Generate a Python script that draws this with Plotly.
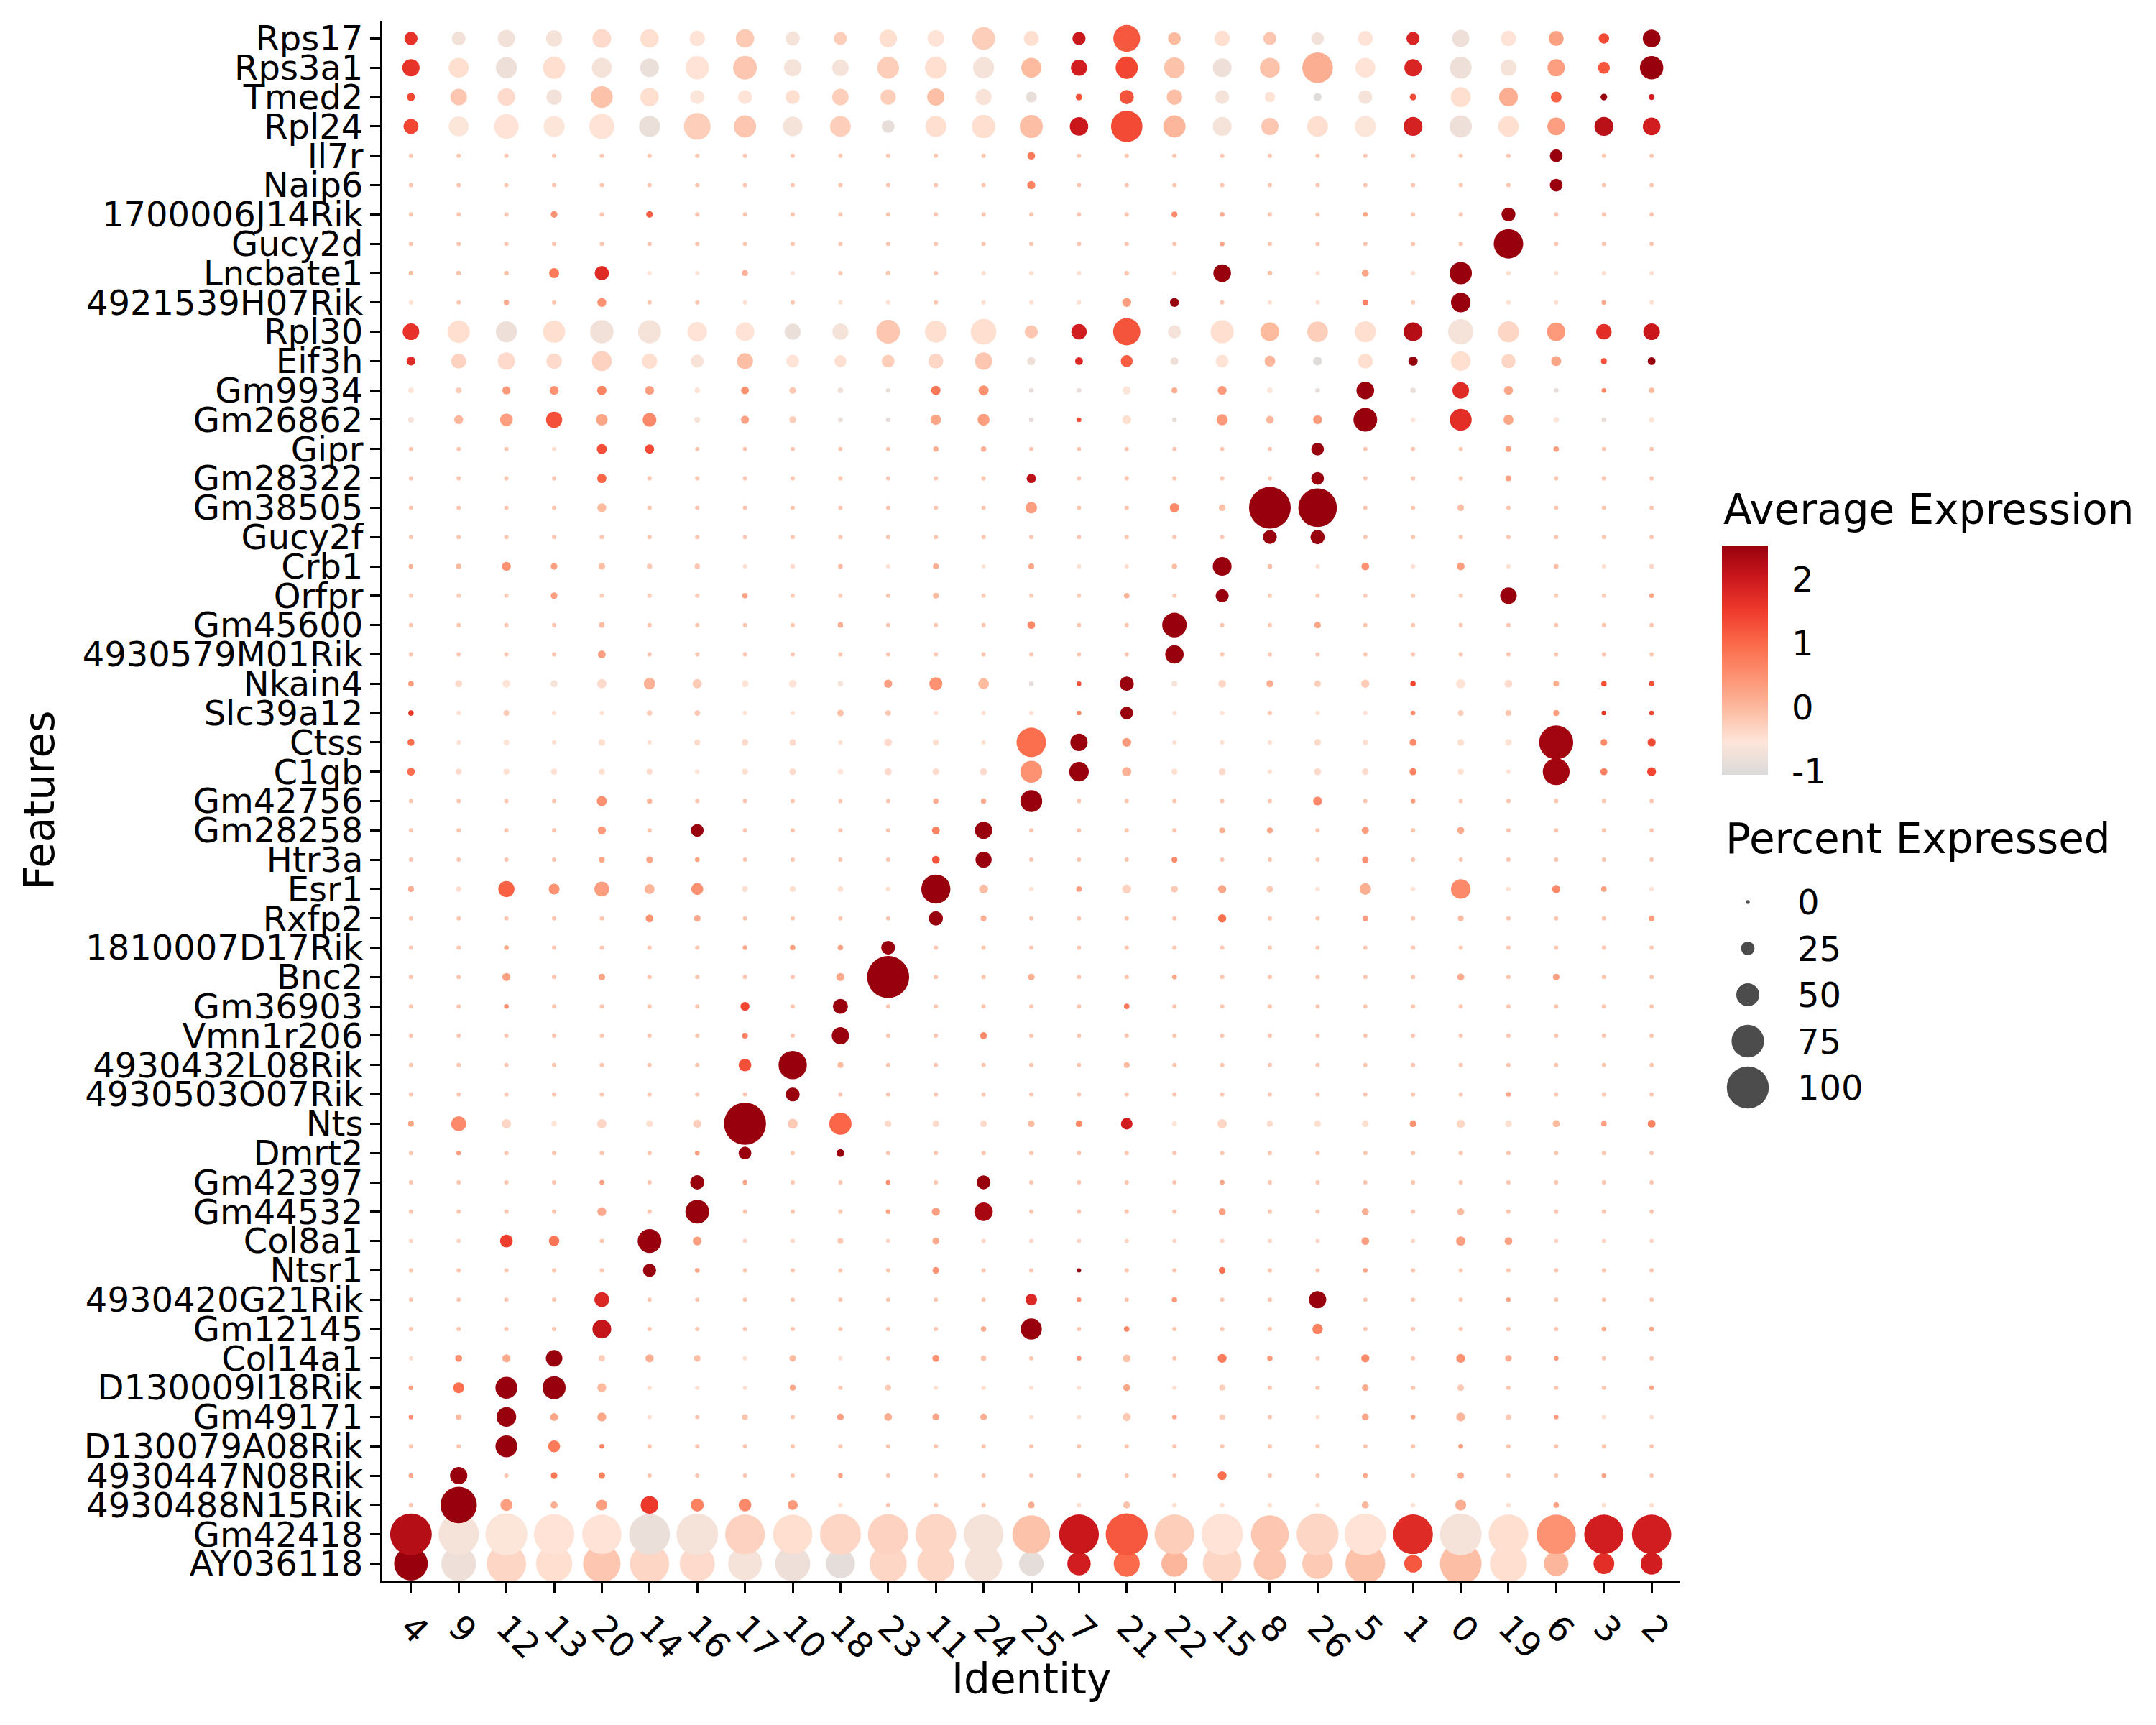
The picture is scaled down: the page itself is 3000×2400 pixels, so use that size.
import plotly.graph_objects as go

# ---------------- data ----------------
features = ["Rps17", "Rps3a1", "Tmed2", "Rpl24", "Il7r", "Naip6", "1700006J14Rik", "Gucy2d",
            "Lncbate1", "4921539H07Rik", "Rpl30", "Eif3h", "Gm9934", "Gm26862", "Gipr", "Gm28322",
            "Gm38505", "Gucy2f", "Crb1", "Orfpr", "Gm45600", "4930579M01Rik", "Nkain4", "Slc39a12",
            "Ctss", "C1qb", "Gm42756", "Gm28258", "Htr3a", "Esr1", "Rxfp2", "1810007D17Rik", "Bnc2",
            "Gm36903", "Vmn1r206", "4930432L08Rik", "4930503O07Rik", "Nts", "Dmrt2", "Gm42397",
            "Gm44532", "Col8a1", "Ntsr1", "4930420G21Rik", "Gm12145", "Col14a1", "D130009I18Rik",
            "Gm49171", "D130079A08Rik", "4930447N08Rik", "4930488N15Rik", "Gm42418", "AY036118"]

clusters = ["4", "9", "12", "13", "20", "14", "16", "17", "10", "18", "23", "11", "24", "25",
            "7", "21", "22", "15", "8", "26", "5", "1", "0", "19", "6", "3", "2"]

# percent expressed, one row per feature (top to bottom), columns follow `clusters`
pct_expressed = [
    [24, 26, 35, 32, 39, 38, 30, 38, 27, 24, 36, 33, 50, 29, 24, 60, 23, 30, 24, 23, 29, 24, 35, 30, 29, 17, 36],  # Rps17
    [35, 42, 45, 48, 42, 39, 51, 52, 35, 33, 47, 47, 45, 42, 32, 48, 44, 39, 42, 70, 42, 35, 47, 32, 35, 21, 51],  # Rps3a1
    [11, 33, 36, 30, 47, 38, 27, 26, 27, 33, 30, 35, 32, 18, 7, 27, 30, 26, 17, 11, 26, 7, 42, 39, 18, 7, 5],  # Tmed2
    [29, 42, 54, 45, 56, 45, 60, 48, 41, 44, 23, 45, 51, 50, 38, 72, 48, 39, 35, 44, 45, 39, 48, 44, 36, 39, 36],  # Rpl24
    [1, 1, 1, 1, 1, 1, 1, 1, 1, 1, 1, 1, 1, 10, 1, 1, 1, 1, 1, 1, 1, 1, 1, 1, 23, 1, 1],  # Il7r
    [1, 1, 1, 1, 1, 1, 1, 1, 1, 1, 1, 1, 1, 11, 1, 1, 1, 1, 1, 1, 1, 1, 1, 1, 23, 1, 1],  # Naip6
    [1, 1, 1, 7, 1, 7, 1, 1, 1, 1, 1, 1, 1, 1, 1, 1, 5, 2, 1, 1, 2, 1, 1, 26, 1, 1, 1],  # 1700006J14Rik
    [1, 1, 1, 1, 1, 1, 1, 1, 1, 1, 1, 1, 1, 1, 1, 1, 1, 2, 1, 1, 1, 1, 1, 67, 1, 1, 1],  # Gucy2d
    [2, 2, 2, 16, 27, 1, 1, 5, 1, 1, 2, 1, 1, 1, 1, 2, 1, 36, 2, 1, 8, 1, 48, 1, 1, 1, 1],  # Lncbate1
    [1, 1, 4, 1, 13, 1, 1, 1, 1, 1, 1, 1, 1, 1, 1, 13, 13, 1, 1, 1, 5, 1, 41, 1, 1, 2, 1],  # 4921539H07Rik
    [33, 48, 45, 48, 51, 50, 41, 39, 32, 32, 52, 47, 57, 24, 30, 61, 24, 50, 39, 44, 45, 39, 56, 45, 38, 30, 33],  # Rpl30
    [13, 29, 35, 30, 42, 30, 24, 32, 23, 21, 23, 29, 35, 11, 10, 21, 10, 23, 18, 13, 29, 14, 41, 27, 16, 5, 10],  # Eif3h
    [4, 5, 11, 13, 14, 13, 4, 10, 7, 4, 2, 14, 16, 2, 2, 11, 5, 13, 4, 2, 36, 4, 33, 13, 2, 2, 4],  # Gm9934
    [5, 13, 23, 32, 20, 26, 5, 11, 8, 2, 2, 17, 21, 2, 2, 13, 2, 19, 10, 13, 52, 2, 47, 16, 4, 2, 4],  # Gm26862
    [1, 1, 1, 1, 16, 14, 1, 1, 1, 1, 1, 4, 4, 1, 1, 1, 1, 1, 1, 23, 1, 1, 1, 5, 4, 1, 1],  # Gipr
    [1, 1, 1, 1, 14, 1, 1, 1, 1, 1, 1, 1, 1, 14, 1, 1, 1, 1, 1, 23, 1, 1, 1, 5, 1, 1, 1],  # Gm28322
    [1, 1, 1, 1, 13, 1, 1, 1, 1, 1, 1, 1, 1, 20, 1, 1, 14, 7, 99, 91, 1, 1, 7, 1, 1, 1, 1],  # Gm38505
    [1, 1, 1, 1, 1, 1, 1, 1, 1, 1, 1, 1, 1, 1, 1, 1, 1, 1, 26, 27, 1, 1, 1, 1, 1, 1, 1],  # Gucy2f
    [2, 4, 13, 7, 7, 4, 4, 1, 2, 2, 1, 5, 0, 5, 1, 1, 4, 39, 2, 1, 10, 1, 10, 1, 2, 1, 2],  # Crb1
    [1, 1, 1, 7, 1, 1, 1, 4, 1, 1, 1, 5, 1, 1, 1, 4, 1, 24, 1, 1, 1, 1, 1, 33, 1, 1, 2],  # Orfpr
    [1, 1, 1, 1, 4, 1, 1, 1, 1, 4, 1, 1, 1, 10, 1, 1, 54, 1, 1, 7, 1, 1, 1, 1, 1, 1, 1],  # Gm45600
    [1, 1, 1, 1, 10, 1, 1, 1, 1, 1, 1, 1, 1, 1, 1, 1, 38, 1, 1, 1, 1, 1, 1, 1, 1, 1, 1],  # 4930579M01Rik
    [4, 8, 10, 8, 14, 20, 14, 8, 10, 4, 11, 24, 18, 2, 2, 27, 5, 10, 8, 7, 11, 4, 14, 10, 5, 4, 4],  # Nkain4
    [4, 1, 5, 1, 1, 4, 4, 1, 1, 7, 4, 1, 1, 1, 2, 23, 1, 1, 1, 1, 1, 2, 5, 5, 5, 2, 2],  # Slc39a12
    [8, 1, 5, 1, 7, 1, 5, 7, 7, 1, 10, 5, 1, 67, 35, 13, 1, 1, 1, 7, 4, 8, 7, 7, 79, 7, 11],  # Ctss
    [10, 5, 5, 5, 5, 5, 2, 5, 7, 4, 8, 7, 8, 47, 41, 14, 5, 8, 1, 8, 7, 8, 5, 1, 60, 8, 13],  # C1qb
    [1, 1, 1, 1, 16, 4, 1, 1, 1, 1, 1, 4, 4, 47, 1, 1, 1, 1, 1, 13, 1, 2, 1, 1, 1, 1, 1],  # Gm42756
    [1, 1, 1, 1, 11, 1, 23, 1, 1, 1, 1, 10, 35, 1, 1, 1, 1, 5, 5, 1, 8, 1, 8, 1, 1, 1, 1],  # Gm28258
    [1, 1, 1, 1, 5, 7, 2, 1, 1, 1, 1, 10, 32, 1, 1, 1, 5, 1, 1, 1, 7, 1, 1, 1, 1, 1, 1],  # Htr3a
    [5, 4, 32, 18, 29, 16, 21, 5, 5, 4, 2, 66, 13, 2, 4, 13, 8, 11, 7, 2, 20, 2, 41, 2, 11, 4, 2],  # Esr1
    [1, 1, 1, 1, 1, 10, 7, 1, 1, 1, 1, 27, 5, 1, 1, 1, 1, 11, 1, 1, 5, 1, 5, 1, 1, 1, 5],  # Rxfp2
    [1, 1, 2, 1, 1, 1, 1, 2, 4, 4, 26, 1, 1, 1, 1, 1, 1, 1, 1, 1, 1, 1, 1, 1, 1, 1, 1],  # 1810007D17Rik
    [1, 1, 11, 1, 7, 1, 1, 1, 1, 11, 100, 1, 1, 7, 1, 1, 2, 1, 1, 1, 1, 1, 8, 1, 7, 1, 1],  # Bnc2
    [1, 1, 2, 1, 1, 1, 1, 13, 1, 29, 1, 1, 1, 1, 1, 4, 1, 1, 1, 1, 1, 1, 1, 1, 1, 1, 1],  # Gm36903
    [1, 1, 1, 1, 1, 1, 1, 5, 1, 35, 1, 1, 8, 1, 1, 1, 1, 1, 1, 1, 1, 1, 1, 1, 1, 1, 1],  # Vmn1r206
    [1, 1, 1, 1, 1, 1, 1, 23, 64, 5, 1, 1, 1, 1, 1, 5, 1, 1, 1, 1, 1, 1, 1, 1, 1, 1, 1],  # 4930432L08Rik
    [1, 1, 1, 1, 1, 1, 1, 1, 26, 1, 1, 1, 1, 1, 1, 1, 1, 1, 1, 1, 1, 1, 1, 2, 1, 1, 1],  # 4930503O07Rik
    [5, 29, 14, 4, 14, 7, 11, 100, 16, 48, 7, 7, 7, 7, 7, 20, 2, 14, 5, 7, 7, 7, 11, 7, 8, 4, 10],  # Nts
    [1, 2, 1, 1, 1, 1, 2, 23, 1, 10, 1, 1, 1, 1, 1, 1, 1, 1, 1, 1, 1, 1, 1, 1, 1, 1, 1],  # Dmrt2
    [1, 1, 1, 1, 2, 1, 27, 2, 1, 1, 2, 1, 26, 1, 1, 1, 1, 2, 1, 1, 1, 1, 1, 1, 1, 1, 1],  # Gm42397
    [1, 1, 1, 1, 13, 1, 52, 1, 1, 1, 2, 11, 38, 1, 1, 1, 1, 8, 1, 1, 8, 1, 8, 1, 1, 1, 1],  # Gm44532
    [1, 1, 23, 17, 1, 52, 13, 1, 1, 5, 1, 8, 1, 1, 1, 1, 1, 1, 1, 1, 10, 1, 14, 10, 1, 1, 1],  # Col8a1
    [1, 1, 1, 1, 1, 24, 2, 1, 1, 1, 1, 7, 1, 1, 1, 1, 1, 7, 1, 1, 2, 1, 1, 1, 1, 1, 1],  # Ntsr1
    [1, 1, 1, 1, 29, 1, 1, 1, 1, 1, 1, 1, 1, 20, 2, 1, 4, 1, 1, 35, 1, 1, 1, 2, 1, 1, 1],  # 4930420G21Rik
    [1, 1, 1, 1, 39, 1, 1, 1, 1, 1, 1, 1, 4, 45, 1, 4, 1, 1, 1, 17, 1, 1, 1, 1, 1, 2, 2],  # Gm12145
    [1, 8, 11, 33, 7, 11, 7, 1, 7, 1, 1, 8, 4, 1, 2, 10, 1, 13, 4, 1, 11, 1, 13, 7, 2, 1, 1],  # Col14a1
    [2, 18, 47, 50, 13, 1, 1, 1, 5, 1, 5, 1, 1, 1, 1, 8, 1, 5, 1, 1, 7, 1, 7, 1, 1, 1, 2],  # D130009I18Rik
    [2, 5, 41, 10, 13, 1, 1, 5, 1, 7, 10, 8, 7, 1, 1, 11, 2, 5, 1, 1, 8, 2, 13, 5, 2, 1, 1],  # Gm49171
    [1, 1, 47, 21, 2, 1, 1, 1, 1, 1, 1, 1, 1, 1, 1, 1, 1, 1, 1, 1, 1, 1, 2, 1, 1, 1, 1],  # D130079A08Rik
    [2, 35, 1, 7, 7, 1, 1, 1, 1, 2, 1, 1, 1, 1, 1, 1, 1, 13, 1, 1, 2, 1, 7, 1, 1, 2, 1],  # 4930447N08Rik
    [1, 85, 21, 8, 18, 36, 24, 23, 16, 1, 1, 1, 1, 7, 1, 8, 1, 1, 1, 1, 8, 1, 18, 1, 4, 1, 1],  # 4930488N15Rik
    [99, 96, 100, 96, 93, 97, 99, 94, 93, 97, 96, 97, 94, 89, 94, 100, 94, 99, 89, 100, 99, 94, 99, 94, 93, 93, 93],  # Gm42418
    [78, 81, 93, 85, 88, 93, 82, 78, 82, 66, 87, 87, 87, 54, 51, 58, 58, 91, 75, 70, 94, 36, 99, 87, 54, 44, 47],  # AY036118
]

# scaled average expression, same layout
avg_expression = [
    [1.6, -0.75, -0.75, -0.7, -0.45, -0.5, -0.55, -0.25, -0.7, -0.3, -0.5, -0.55, -0.3, -0.5, 2.0, 1.15, -0.05, -0.5, -0.2, -0.75, -0.55, 1.8, -0.8, -0.55, 0.25, 1.3, 2.5],  # Rps17
    [1.6, -0.5, -0.8, -0.5, -0.7, -0.85, -0.55, -0.2, -0.7, -0.7, -0.3, -0.5, -0.7, -0.05, 1.9, 1.35, -0.15, -0.8, -0.15, 0.1, -0.55, 1.8, -0.8, -0.7, 0.3, 1.15, 2.5],  # Rps3a1
    [1.35, -0.2, -0.45, -0.75, -0.15, -0.5, -0.6, -0.55, -0.5, -0.3, -0.3, -0.1, -0.65, -0.9, 1.2, 1.2, -0.1, -0.7, -0.55, -1.0, -0.7, 1.3, -0.5, 0.1, 1.05, 2.5, 1.9],  # Tmed2
    [1.35, -0.6, -0.55, -0.6, -0.55, -0.85, -0.3, -0.2, -0.7, -0.3, -0.9, -0.5, -0.5, -0.1, 2.0, 1.3, 0.0, -0.7, -0.2, -0.5, -0.6, 1.85, -0.8, -0.5, 0.3, 2.15, 1.9],  # Rpl24
    [-0.2, -0.2, -0.2, -0.2, -0.2, -0.2, -0.2, -0.2, -0.2, -0.2, -0.2, -0.2, -0.2, 0.75, -0.2, -0.2, -0.2, -0.2, -0.2, -0.2, -0.2, -0.2, -0.2, -0.2, 2.5, -0.2, -0.2],  # Il7r
    [-0.2, -0.2, -0.2, -0.2, -0.2, -0.2, -0.2, -0.2, -0.2, -0.2, -0.2, -0.2, -0.2, 0.65, -0.2, -0.2, -0.2, -0.2, -0.2, -0.2, -0.2, -0.2, -0.2, -0.2, 2.5, -0.2, -0.2],  # Naip6
    [-0.2, -0.2, -0.2, 0.45, -0.2, 1.1, -0.2, -0.2, -0.2, -0.2, -0.2, -0.2, -0.2, -0.2, -0.2, -0.2, 0.55, 0.1, -0.2, -0.2, 0.15, -0.2, -0.2, 2.5, -0.2, -0.2, -0.2],  # 1700006J14Rik
    [-0.2, -0.2, -0.2, -0.2, -0.2, -0.2, -0.2, -0.2, -0.2, -0.2, -0.2, -0.2, -0.2, -0.2, -0.2, -0.2, -0.2, 0.2, -0.2, -0.2, -0.2, -0.2, -0.2, 2.5, -0.2, -0.2, -0.2],  # Gucy2d
    [-0.1, -0.2, -0.15, 0.75, 1.7, -0.55, -0.55, 0.05, -0.55, -0.2, -0.25, -0.2, -0.5, -0.5, -0.5, -0.2, -0.5, 2.5, -0.15, -0.5, 0.2, -0.5, 2.5, -0.5, -0.5, -0.5, -0.5],  # Lncbate1
    [-0.5, -0.2, 0.15, -0.2, 0.45, -0.2, -0.2, -0.5, -0.2, -0.5, -0.5, -0.2, -0.5, -0.5, -0.5, 0.3, 2.5, -0.2, -0.5, -0.5, 0.65, -0.3, 2.5, -0.5, -0.5, 0.15, -0.5],  # 4921539H07Rik
    [1.6, -0.5, -0.8, -0.5, -0.75, -0.7, -0.55, -0.55, -0.85, -0.7, -0.2, -0.5, -0.5, -0.2, 1.9, 1.2, -0.7, -0.5, -0.05, -0.3, -0.5, 2.2, -0.7, -0.4, 0.35, 1.65, 2.0],  # Rpl30
    [1.7, -0.35, -0.45, -0.45, -0.35, -0.5, -0.65, -0.1, -0.55, -0.5, -0.3, -0.4, -0.2, -0.8, 1.75, 1.1, -0.8, -0.55, 0.0, -1.0, -0.5, 2.5, -0.5, -0.4, 0.2, 1.2, 2.5],  # Eif3h
    [-0.55, -0.3, 0.35, 0.45, 0.65, 0.3, -0.55, 0.45, -0.2, -0.8, -0.85, 0.8, 0.45, -0.9, -0.9, -0.6, 0.1, 0.35, -0.6, -0.9, 2.5, -0.85, 1.7, 0.2, -0.9, 0.55, -0.05],  # Gm9934
    [-0.7, 0.0, 0.3, 1.25, 0.2, 0.55, -0.7, 0.25, -0.3, -0.85, -0.9, 0.2, 0.3, -0.9, 1.25, -0.5, -0.9, 0.35, 0.0, 0.35, 2.5, -0.6, 1.65, 0.2, -0.6, -0.9, -0.6],  # Gm26862
    [-0.2, -0.2, -0.2, -0.5, 1.25, 1.3, -0.2, -0.2, -0.2, -0.2, -0.2, 0.1, 0.1, -0.2, -0.2, -0.2, -0.2, -0.2, -0.2, 2.5, -0.2, -0.2, -0.2, 0.25, 0.3, -0.2, -0.2],  # Gipr
    [-0.2, -0.2, -0.2, -0.2, 1.0, -0.2, -0.2, -0.2, -0.2, -0.2, -0.2, -0.2, -0.2, 2.15, -0.2, -0.2, -0.2, -0.2, -0.2, 2.5, -0.2, -0.2, -0.2, 0.25, -0.2, -0.2, -0.2],  # Gm28322
    [-0.2, -0.2, -0.2, -0.2, -0.05, -0.2, -0.2, -0.2, -0.2, -0.2, -0.2, -0.2, -0.2, 0.3, -0.2, -0.2, 0.55, -0.15, 2.5, 2.5, -0.2, -0.2, -0.1, -0.2, -0.2, -0.2, -0.2],  # Gm38505
    [-0.2, -0.2, -0.2, -0.2, -0.2, -0.2, -0.2, -0.2, -0.2, -0.2, -0.2, -0.2, -0.2, -0.2, -0.2, -0.2, -0.2, -0.2, 2.5, 2.5, -0.2, -0.2, -0.2, -0.2, -0.2, -0.2, -0.2],  # Gucy2f
    [0.05, -0.05, 0.45, 0.3, -0.1, -0.25, -0.2, -0.5, -0.45, -0.05, -0.5, 0.1, -0.5, 0.2, -0.5, -0.5, -0.1, 2.5, -0.1, -0.5, 0.45, -0.5, 0.3, -0.5, -0.1, -0.5, -0.4],  # Crb1
    [-0.3, -0.3, -0.3, 0.3, -0.3, -0.3, -0.3, 0.25, -0.3, -0.3, -0.2, -0.05, -0.3, -0.3, -0.3, 0.05, -0.3, 2.5, -0.3, -0.3, -0.3, -0.3, -0.3, 2.5, -0.3, -0.3, 0.2],  # Orfpr
    [-0.2, -0.2, -0.2, -0.2, -0.05, -0.2, -0.2, -0.2, -0.2, 0.1, -0.2, -0.2, -0.2, 0.55, -0.2, -0.2, 2.5, -0.2, -0.2, 0.2, -0.2, -0.2, -0.2, -0.2, -0.2, -0.2, -0.2],  # Gm45600
    [-0.2, -0.2, -0.2, -0.2, 0.3, -0.2, -0.2, -0.2, -0.2, -0.2, -0.2, -0.2, -0.2, -0.2, -0.2, -0.2, 2.5, -0.2, -0.2, -0.2, -0.2, -0.2, -0.2, -0.2, -0.2, -0.2, -0.2],  # 4930579M01Rik
    [0.35, -0.45, -0.55, -0.7, -0.45, 0.05, -0.25, -0.55, -0.55, -0.7, 0.3, 0.45, -0.05, -0.9, 1.25, 2.5, -0.7, -0.4, 0.1, -0.3, -0.25, 1.35, -0.55, -0.45, 0.1, 1.25, 1.25],  # Nkain4
    [1.55, -0.5, -0.25, -0.5, -0.5, -0.3, -0.2, -0.5, -0.5, -0.15, -0.2, -0.5, -0.5, -0.5, 0.55, 2.5, -0.5, -0.5, -0.2, -0.5, -0.5, 0.45, -0.3, -0.2, 0.35, 1.55, 1.35],  # Slc39a12
    [0.9, -0.5, -0.55, -0.5, -0.5, -0.5, -0.45, -0.45, -0.45, -0.5, -0.45, -0.5, -0.5, 0.9, 2.5, 0.35, -0.5, -0.5, -0.5, -0.45, -0.5, 0.55, -0.5, -0.55, 2.4, 0.55, 1.3],  # Ctss
    [0.9, -0.45, -0.5, -0.5, -0.5, -0.45, -0.55, -0.5, -0.45, -0.55, -0.45, -0.45, -0.45, 0.45, 2.5, 0.05, -0.5, -0.45, -0.5, -0.45, -0.45, 0.65, -0.5, -0.55, 2.4, 0.65, 1.35],  # C1qb
    [-0.2, -0.2, -0.2, -0.2, 0.45, 0.0, -0.2, -0.2, -0.2, -0.2, -0.2, 0.15, 0.15, 2.5, -0.2, -0.2, -0.2, -0.2, -0.2, 0.55, -0.2, 0.35, -0.2, -0.2, -0.2, -0.2, -0.2],  # Gm42756
    [-0.2, -0.2, -0.2, -0.2, 0.35, -0.2, 2.5, -0.2, -0.2, -0.2, -0.2, 0.65, 2.5, -0.2, -0.2, -0.2, -0.2, 0.1, 0.2, -0.2, 0.35, -0.2, 0.15, -0.2, -0.2, -0.2, -0.2],  # Gm28258
    [-0.2, -0.2, -0.2, -0.2, 0.2, 0.2, 0.2, -0.2, -0.2, -0.2, -0.2, 1.2, 2.5, -0.2, -0.2, -0.2, 0.55, -0.2, -0.2, -0.2, 0.45, -0.2, -0.2, -0.2, -0.2, -0.2, -0.2],  # Htr3a
    [0.1, -0.5, 1.05, 0.45, 0.3, 0.0, 0.45, -0.5, -0.5, -0.5, -0.5, 2.5, -0.1, -0.55, 0.3, -0.35, -0.25, 0.2, -0.25, -0.55, 0.1, -0.55, 0.55, -0.55, 0.55, 0.3, -0.55],  # Esr1
    [-0.2, -0.2, -0.2, -0.2, -0.2, 0.45, 0.15, -0.2, -0.2, -0.2, -0.2, 2.5, 0.1, -0.2, -0.2, -0.2, -0.2, 0.9, -0.2, -0.2, 0.3, -0.2, -0.05, -0.2, -0.2, -0.2, 0.3],  # Rxfp2
    [-0.2, -0.2, 0.2, -0.2, -0.2, -0.2, -0.2, 0.2, 0.3, 0.25, 2.5, -0.2, -0.2, -0.2, -0.2, -0.2, -0.2, -0.2, -0.2, -0.2, -0.2, -0.2, -0.2, -0.2, -0.2, -0.2, -0.2],  # 1810007D17Rik
    [-0.2, -0.2, 0.25, -0.2, 0.2, -0.2, -0.2, -0.2, -0.2, 0.15, 2.5, -0.2, -0.2, 0.1, -0.2, -0.2, 0.2, -0.2, -0.2, -0.2, -0.2, -0.2, 0.15, -0.2, 0.25, -0.2, -0.2],  # Bnc2
    [-0.2, -0.2, 0.45, -0.2, -0.2, -0.2, -0.2, 1.35, -0.2, 2.5, -0.2, -0.2, -0.2, -0.2, -0.2, 0.8, -0.2, -0.2, -0.2, -0.2, -0.2, -0.2, -0.2, -0.2, -0.2, -0.2, -0.2],  # Gm36903
    [-0.2, -0.2, -0.2, -0.2, -0.2, -0.2, -0.2, 0.65, -0.2, 2.5, -0.2, -0.2, 0.55, -0.2, -0.2, -0.2, -0.2, -0.2, -0.2, -0.2, -0.2, -0.2, -0.2, -0.2, -0.2, -0.2, -0.2],  # Vmn1r206
    [-0.2, -0.2, -0.2, -0.2, -0.2, -0.2, -0.2, 1.25, 2.5, -0.05, -0.2, -0.2, -0.2, -0.2, -0.2, -0.05, -0.2, -0.2, -0.2, -0.2, -0.2, -0.2, -0.2, -0.2, -0.2, -0.2, -0.2],  # 4930432L08Rik
    [-0.2, -0.2, -0.2, -0.2, -0.2, -0.2, -0.2, -0.2, 2.5, -0.2, -0.2, -0.2, -0.2, -0.2, -0.2, -0.2, -0.2, -0.2, -0.2, -0.2, -0.2, -0.2, -0.2, 0.2, -0.2, -0.2, -0.2],  # 4930503O07Rik
    [0.2, 0.55, -0.4, -0.55, -0.4, -0.5, -0.3, 2.5, -0.25, 1.0, -0.45, -0.45, -0.45, -0.05, 0.55, 1.9, -0.55, -0.4, -0.45, -0.5, -0.5, 0.45, -0.4, -0.5, -0.05, 0.3, 0.65],  # Nts
    [-0.2, 0.3, -0.2, -0.2, -0.2, -0.2, 0.3, 2.5, -0.2, 2.5, -0.2, -0.2, -0.2, -0.2, -0.2, -0.2, -0.2, -0.2, -0.2, -0.2, -0.2, -0.2, -0.2, -0.2, -0.2, -0.2, -0.2],  # Dmrt2
    [-0.2, -0.2, -0.2, -0.2, 0.3, -0.2, 2.5, 0.2, -0.2, -0.2, 0.45, -0.2, 2.5, -0.2, -0.2, -0.2, -0.2, 0.2, -0.2, -0.2, -0.2, -0.2, -0.2, -0.2, -0.2, -0.2, -0.2],  # Gm42397
    [-0.2, -0.2, -0.2, -0.2, 0.15, -0.2, 2.5, -0.2, -0.2, -0.2, 0.2, 0.3, 2.35, -0.2, -0.2, -0.2, -0.2, 0.3, -0.2, -0.2, 0.1, -0.2, -0.05, -0.2, -0.2, -0.2, -0.2],  # Gm44532
    [-0.4, -0.4, 1.45, 0.8, -0.2, 2.5, 0.3, -0.4, -0.4, -0.2, -0.4, 0.15, -0.4, -0.4, -0.4, -0.4, -0.4, -0.4, -0.4, -0.4, 0.3, -0.4, 0.3, 0.25, -0.4, -0.4, -0.4],  # Col8a1
    [-0.2, -0.2, -0.2, -0.2, -0.2, 2.5, 0.2, -0.2, -0.2, -0.2, -0.2, 0.45, -0.2, -0.2, 2.5, -0.2, -0.2, 0.9, -0.2, -0.2, 0.2, -0.2, -0.2, -0.2, -0.2, -0.2, -0.2],  # Ntsr1
    [-0.2, -0.2, -0.2, -0.2, 1.75, -0.2, -0.2, -0.2, -0.2, -0.2, -0.2, -0.2, -0.2, 1.75, 0.45, -0.2, 0.35, -0.2, -0.2, 2.5, -0.2, -0.2, -0.2, 0.2, -0.2, -0.2, -0.2],  # 4930420G21Rik
    [-0.2, -0.2, -0.2, -0.2, 2.05, -0.2, -0.2, -0.2, -0.2, -0.2, -0.2, -0.2, 0.15, 2.5, -0.2, 0.65, -0.2, -0.2, -0.2, 0.65, -0.2, -0.2, -0.2, -0.2, -0.2, 0.2, 0.2],  # Gm12145
    [-0.5, 0.45, 0.15, 2.5, -0.3, 0.1, -0.1, -0.5, -0.05, -0.5, -0.2, 0.45, -0.15, -0.2, 0.45, -0.15, -0.2, 0.75, 0.35, -0.2, 0.55, -0.2, 0.45, 0.1, 0.35, -0.2, -0.2],  # Col14a1
    [0.3, 0.9, 2.5, 2.5, -0.05, -0.5, -0.5, -0.5, 0.2, -0.2, -0.25, -0.5, -0.5, -0.5, -0.5, 0.2, -0.5, -0.3, -0.2, -0.2, 0.15, -0.2, -0.25, -0.2, -0.2, -0.2, 0.2],  # D130009I18Rik
    [0.45, -0.05, 2.5, 0.2, 0.2, -0.5, -0.2, -0.15, -0.2, 0.3, 0.1, 0.2, 0.1, -0.5, -0.5, -0.25, 0.15, -0.3, -0.2, -0.5, 0.2, 0.2, 0.0, -0.25, 0.3, -0.5, -0.5],  # Gm49171
    [-0.2, -0.2, 2.5, 0.75, 0.65, -0.2, -0.2, -0.2, -0.2, -0.2, -0.2, -0.2, -0.2, -0.2, -0.2, -0.2, -0.2, -0.2, -0.2, -0.2, -0.2, -0.2, 0.3, -0.2, -0.2, -0.2, -0.2],  # D130079A08Rik
    [0.2, 2.5, -0.2, 0.8, 0.65, -0.2, -0.2, -0.2, -0.2, 0.3, -0.2, -0.2, -0.2, -0.2, -0.2, -0.2, -0.2, 0.9, -0.2, -0.2, 0.2, -0.2, 0.15, -0.2, -0.2, 0.2, -0.2],  # 4930447N08Rik
    [-0.2, 2.5, 0.3, 0.1, 0.3, 1.5, 0.65, 0.55, 0.35, -0.5, -0.2, -0.2, -0.2, 0.1, -0.5, -0.15, -0.5, -0.5, -0.5, -0.5, 0.0, -0.5, 0.1, -0.5, 0.25, -0.5, -0.5],  # 4930488N15Rik
    [2.2, -0.7, -0.6, -0.55, -0.55, -0.85, -0.7, -0.35, -0.5, -0.4, -0.35, -0.4, -0.7, -0.15, 2.0, 1.15, -0.3, -0.55, -0.2, -0.4, -0.55, 1.7, -0.7, -0.5, 0.45, 1.9, 1.9],  # Gm42418
    [2.5, -0.8, -0.4, -0.5, -0.2, -0.4, -0.45, -0.7, -0.8, -0.95, -0.4, -0.4, -0.7, -0.95, 1.9, 0.95, 0.0, -0.4, -0.2, -0.25, -0.15, 1.15, -0.1, -0.5, 0.0, 1.65, 1.9],  # AY036118
]

color_ticks = [-1, 0, 1, 2]
size_breaks = [0, 25, 50, 75, 100]

for r in pct_expressed + avg_expression:
    assert len(r) == len(clusters)
assert len(pct_expressed) == len(features) == len(avg_expression)

# ---------------- geometry / style ----------------
W, H = 3000, 2400
L, R, T, B = 532, 0, 29, 200
PW, PH = W - L - R, H - T - B
PLOT_RIGHT = 2338
FONT = "DejaVu Sans"


def px2x(px):
    return (px - L) / PW


def py2y(py):
    return 1 - (py - T) / PH


CMIN, CMAX = -1.09, 2.49
reds = ["#DADADA", "#FEE5D9", "#FCBBA1", "#FC9272", "#FB6A4A", "#EF3B2C", "#CB181D", "#99000D"]
colorscale = [[i / (len(reds) - 1), c] for i, c in enumerate(reds)]


def dot_size(p):
    return 5.5 + 0.53 * p


# build points, bottom row first so upper rows are drawn on top
xs, ys, sizes, colors, texts = [], [], [], [], []
for fi in range(len(features) - 1, -1, -1):
    for ci, cl in enumerate(clusters):
        xs.append(cl)
        ys.append(features[fi])
        sizes.append(dot_size(pct_expressed[fi][ci]))
        colors.append(avg_expression[fi][ci])
        texts.append(f"{features[fi]} / {cl}: {pct_expressed[fi][ci]}%, {avg_expression[fi][ci]}")

CB_TOP, CB_LEN, CB_LEFT, CB_THICK = 762, 319, 2396, 64
CB_SHIFT = 77  # vertical correction for colorbar placement

fig = go.Figure()
fig.add_trace(go.Scatter(
    x=xs, y=ys, mode="markers", text=texts, hoverinfo="text",
    marker=dict(size=sizes, sizemode="diameter", color=colors, colorscale=colorscale,
                cmin=CMIN, cmax=CMAX, line=dict(width=0), opacity=1,
                colorbar=dict(xref="container", yref="container",
                              x=CB_LEFT / W, xanchor="left",
                              y=1 - (CB_TOP + CB_SHIFT) / H, yanchor="top",
                              len=CB_LEN, lenmode="pixels",
                              thickness=CB_THICK, thicknessmode="pixels",
                              xpad=0, ypad=0, outlinewidth=0, borderwidth=0,
                              tickvals=color_ticks, showticklabels=False, ticks="")),
    cliponaxis=True, showlegend=False,
))

# size legend through its own small axes
fig.add_trace(go.Scatter(
    x=[0.5] * len(size_breaks), y=list(range(len(size_breaks))), mode="markers",
    marker=dict(size=[dot_size(v) for v in size_breaks], sizemode="diameter", color="black",
                line=dict(width=0)),
    xaxis="x2", yaxis="y2", cliponaxis=False, showlegend=False, hoverinfo="skip",
))

axis_common = dict(showgrid=False, zeroline=False, showline=True, linecolor="black", linewidth=3,
                   ticks="outside", ticklen=14, tickwidth=3, tickcolor="black", mirror=False,
                   tickfont=dict(family=FONT, size=48, color="black"))

SL_TOP, SL_STEP = 1222.75, 64.5
annotations = []
shapes = []
for v in color_ticks:
    py = CB_TOP + CB_LEN - (v - CMIN) / (CMAX - CMIN) * CB_LEN
    annotations.append(dict(x=px2x(2491), y=py2y(py), xref="paper", yref="paper", text=str(v),
                            showarrow=False, xanchor="left", yanchor="middle",
                            font=dict(family=FONT, size=48, color="black")))
    for x0, x1 in [(CB_LEFT, CB_LEFT + 13), (CB_LEFT + CB_THICK - 13, CB_LEFT + CB_THICK)]:
        shapes.append(dict(type="line", xref="paper", yref="paper", x0=px2x(x0), x1=px2x(x1),
                           y0=py2y(py), y1=py2y(py), line=dict(color="white", width=2)))
for i, v in enumerate(size_breaks):
    annotations.append(dict(x=px2x(2499), y=i, xref="paper", yref="y2", text=str(v),
                            showarrow=False, xanchor="left", yanchor="middle",
                            font=dict(family=FONT, size=48, color="black")))
annotations += [
    dict(x=px2x(2396), y=py2y(709), xref="paper", yref="paper", text="Average Expression",
         showarrow=False, xanchor="left", yanchor="middle", font=dict(family=FONT, size=58, color="black")),
    dict(x=px2x(2399), y=py2y(1167), xref="paper", yref="paper", text="Percent Expressed",
         showarrow=False, xanchor="left", yanchor="middle", font=dict(family=FONT, size=58, color="black")),
    dict(x=px2x(55), y=py2y(1114), xref="paper", yref="paper", text="Features", textangle=-90,
         showarrow=False, xanchor="center", yanchor="middle", font=dict(family=FONT, size=58, color="black")),
    dict(x=px2x(1435), y=py2y(2336), xref="paper", yref="paper", text="Identity",
         showarrow=False, xanchor="center", yanchor="middle", font=dict(family=FONT, size=58, color="black")),
]

fig.update_layout(
    width=W, height=H, margin=dict(l=L, r=R, t=T, b=B, pad=0, autoexpand=False),
    paper_bgcolor="white", plot_bgcolor="white",
    font=dict(family=FONT, color="black"),
    xaxis=dict(domain=[0, px2x(PLOT_RIGHT)], type="category", categoryorder="array",
               categoryarray=clusters, range=[-0.6, len(clusters) - 0.4], tickangle=45,
               tickmode="array", tickvals=clusters, ticktext=clusters, **axis_common),
    yaxis=dict(domain=[0, 1], type="category", categoryorder="array",
               categoryarray=features[::-1], range=[-0.6, len(features) - 0.4],
               tickmode="array", tickvals=features, ticktext=features, **axis_common),
    xaxis2=dict(domain=[px2x(2402), px2x(2462)], range=[0, 1], visible=False, anchor="y2"),
    yaxis2=dict(domain=[py2y(SL_TOP + SL_STEP * len(size_breaks)), py2y(SL_TOP)],
                range=[len(size_breaks) - 0.5, -0.5], visible=False, anchor="x2"),
    annotations=annotations, shapes=shapes,
)

fig.write_html("out.html")
